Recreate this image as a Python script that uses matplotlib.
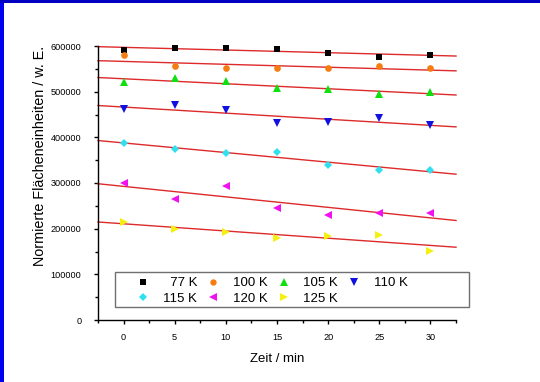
import numpy as np
import matplotlib
matplotlib.use("Agg")
import matplotlib.pyplot as plt
from matplotlib.patches import Rectangle
from matplotlib.ticker import MultipleLocator, FuncFormatter

plt.rcParams['font.family'] = ['Liberation Sans', 'DejaVu Sans']

time_min = [0, 5, 10, 15, 20, 25, 30]
labels = ["77 K", "100 K", "105 K", "110 K", "115 K", "120 K", "125 K"]
v77 = [592000, 595000, 595000, 594000, 585000, 577000, 580000]
v100 = [580000, 557000, 551000, 551000, 551000, 556000, 551000]
v105 = [522000, 529000, 524000, 508000, 505000, 495000, 500000]
v110 = [462000, 470000, 459000, 431000, 433000, 442000, 427000]
v115 = [387000, 375000, 366000, 368000, 340000, 329000, 328000]
v120 = [301000, 266000, 293000, 246000, 231000, 235000, 235000]
v125 = [214000, 200000, 193000, 179000, 184000, 187000, 152000]
series = [v77, v100, v105, v110, v115, v120, v125]

markers = ['s', 'o', '^', 'v', 'D', '<', '>']
colors = ['#000000', '#f57c10', '#10e010', '#1010e0', '#30e0f0', '#f010f0', '#f5f010']
msizes = [4.5, 4.8, 5.8, 5.8, 4.2, 5.8, 5.8]

W, H = 540, 382
fig = plt.figure(figsize=(W / 100, H / 100), dpi=100, facecolor='white')

# blue frame strips
fig.patches.append(Rectangle((0, 0), 4 / W, 1, transform=fig.transFigure,
                             facecolor='#0000f0', edgecolor='none', zorder=0))
fig.patches.append(Rectangle((0, 1 - 3 / H), 1, 3 / H, transform=fig.transFigure,
                             facecolor='#0000c0', edgecolor='none', zorder=0))

ax = fig.add_axes([98 / W, 62 / H, (456 - 98) / W, (320 - 46) / H])
ax.set_xlim(-2.5, 32.5)
ax.set_ylim(0, 600000)

xfit = np.array(ax.get_xlim())
handles = []
for vals, m, c, ms, lab in zip(series, markers, colors, msizes, labels):
    k, b = np.polyfit(time_min, vals, 1)
    ax.plot(xfit, k * xfit + b, color='#dd2a2a', lw=1.0, zorder=2, clip_on=False)
    h, = ax.plot(time_min, vals, linestyle='none', marker=m, color=c, ms=ms,
                 markeredgewidth=0, zorder=3, clip_on=False, label=lab)
    handles.append(h)

for s in ['top', 'right']:
    ax.spines[s].set_visible(False)
for s in ['left', 'bottom']:
    ax.spines[s].set_linewidth(1.0)

ax.xaxis.set_major_locator(MultipleLocator(5))
ax.xaxis.set_minor_locator(MultipleLocator(2.5))
ax.yaxis.set_major_locator(MultipleLocator(100000))
ax.yaxis.set_minor_locator(MultipleLocator(50000))
ax.yaxis.set_major_formatter(FuncFormatter(lambda v, p: f"{int(round(v))}"))
ax.tick_params(which='major', direction='out', length=3, width=1.0, labelsize=6.6)
ax.tick_params(which='minor', direction='out', length=2, width=1.0)
ax.tick_params(axis='y', which='major', pad=9)
ax.tick_params(axis='x', which='major', pad=6)

ax.set_xlabel("Zeit / min", fontsize=9.5, labelpad=8)
ax.set_ylabel("Normierte Flächeneinheiten / w. E.", fontsize=10.4)
ax.yaxis.set_label_coords(-0.142, 0.60)

# legend frame
fig.patches.append(Rectangle((115 / W, 1 - 307 / H), (469 - 115) / W, 35 / H,
                             transform=fig.transFigure, facecolor='white',
                             edgecolor='#707070', lw=1.0, zorder=5))
order = [0, 4, 1, 5, 2, 6, 3]
leg_labels = ["  77 K", "100 K", "105 K", "110 K", "115 K", "120 K", "125 K"]
leg = fig.legend([handles[i] for i in order], [leg_labels[i] for i in order],
                 ncol=4, frameon=False, loc='upper left',
                 bbox_to_anchor=(137 / W, 1 - 277 / H), bbox_transform=fig.transFigure,
                 borderpad=0, borderaxespad=0, fontsize=9.5, handlelength=0.95,
                 handletextpad=1.0, columnspacing=0.75, labelspacing=0.25,
                 markerscale=0.95)
leg.set_zorder(6)

fig.savefig("out.png", dpi=100, facecolor='white')
